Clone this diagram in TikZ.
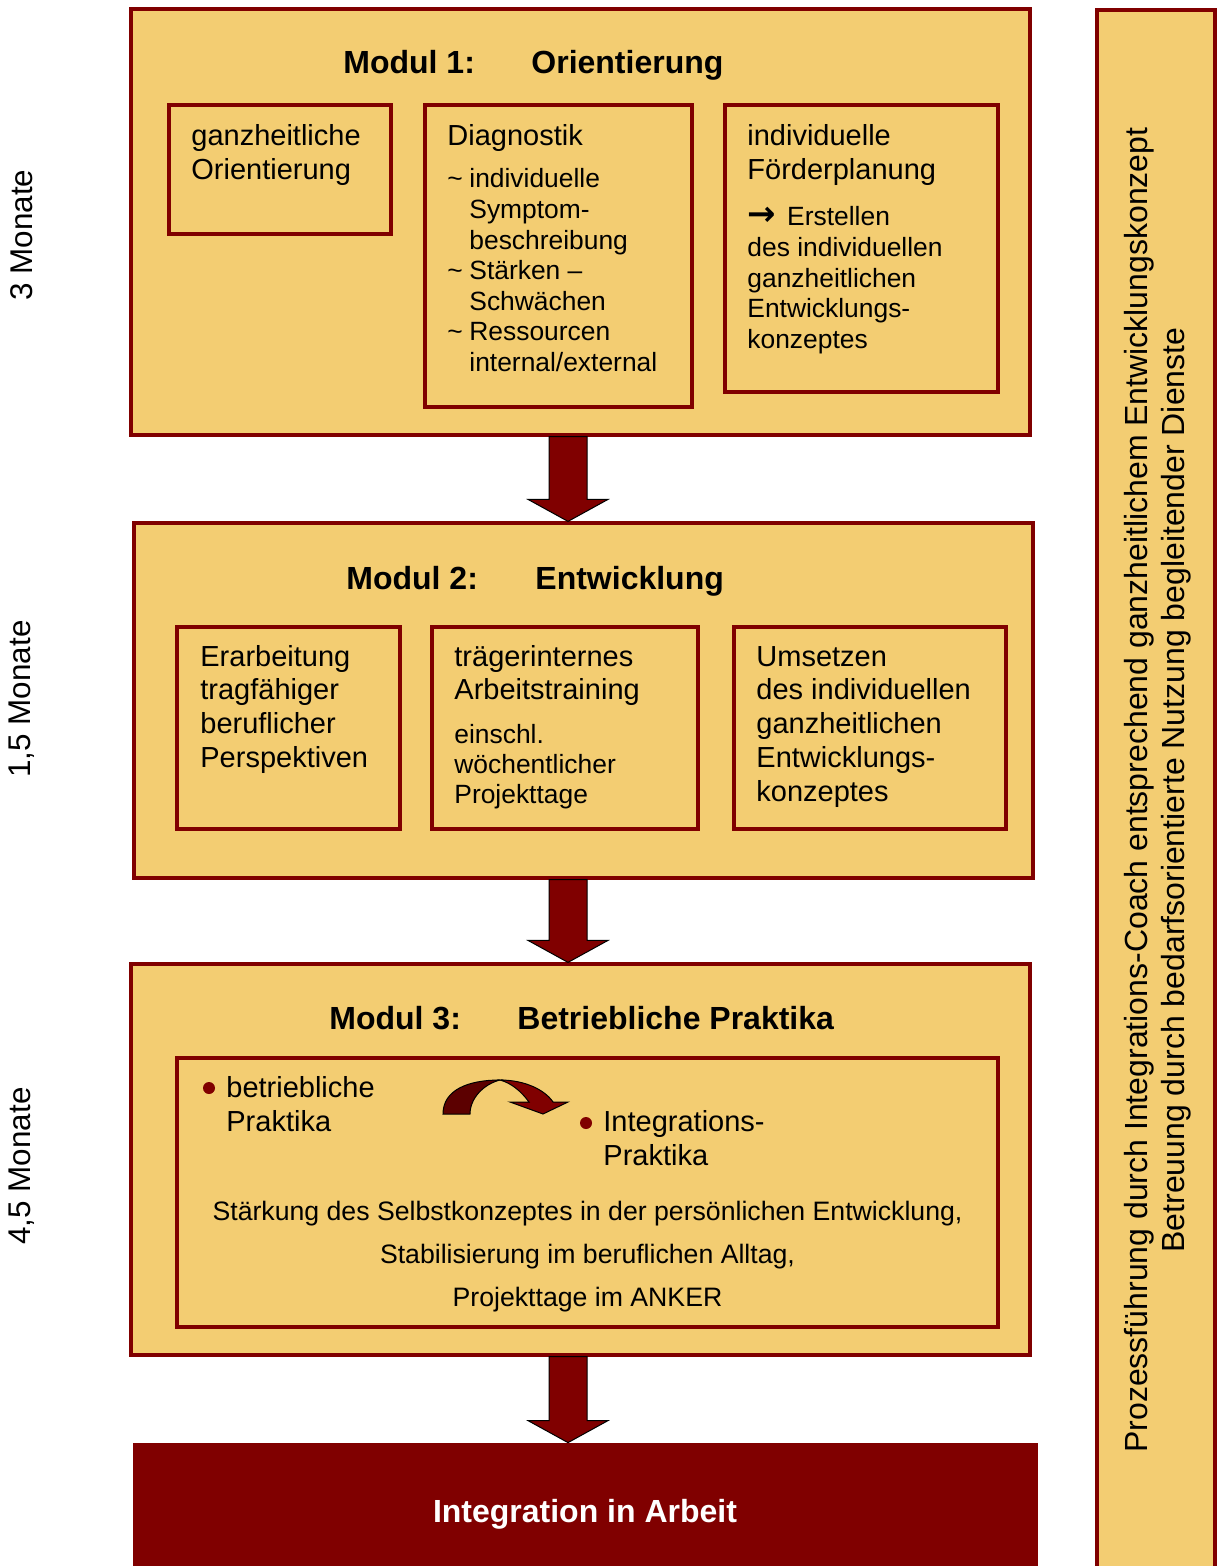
\documentclass[tikz,border=0pt]{standalone}
\usepackage{fontspec}
\setmainfont{Liberation Sans}
\newfontfamily\dvs{DejaVu Sans}
\usetikzlibrary{fit,calc}
\definecolor{dred}{RGB}{128,0,0}
\definecolor{dredshade}{RGB}{92,0,0}
\definecolor{lgold}{RGB}{243,205,114}
\newcommand{\modarrow}[2]{%
  \path[blockarrow] ($(#1)+(-19,0)$) -- ($(#2)+(-19,-22)$) -- ($(#2)+(-40,-22)$) -- (#2)
    -- ($(#2)+(40,-22)$) -- ($(#2)+(19,-22)$) -- ($(#1)+(19,0)$) -- cycle;}
\newcommand{\tl}{\makebox[11pt][l]{\textasciitilde}}
\newcommand{\ind}{\hspace*{11pt}}
\begin{document}
\begin{tikzpicture}[x=0.5pt,y=-0.5pt,
  modbox/.style={draw=dred, fill=lgold, line width=1.6pt, inner sep=0pt},
  inbox/.style={draw=dred, fill=lgold, line width=2pt, inner sep=0pt},
  big/.style={anchor=base west, inner sep=0pt, align=left, font=\fontsize{14.5}{16.75}\selectfont},
  small/.style={anchor=base west, inner sep=0pt, align=left, font=\fontsize{13.2}{15.3}\selectfont},
  head/.style={anchor=base west, inner sep=0pt, font=\fontsize{16}{19}\selectfont\bfseries},
  side/.style={rotate=90, inner sep=0pt, font=\fontsize{15.7}{18.5}\selectfont, align=center},
  blockarrow/.style={fill=dred, draw=black, line width=0.5pt},
  bullet/.style={circle, fill=dred, inner sep=0pt, minimum size=6pt},
]
\useasboundingbox (0,0) rectangle (1218,1566);

% side box
\node[draw=dred, fill=lgold, line width=1.6pt, inner sep=0pt, fit={(1097,10) (1215,1580)}] (sidebox) {};
\node[side, font=\fontsize{16}{18.5}\selectfont] (sidetext) at (1158,790) {Prozessführung durch Integrations-Coach entsprechend ganzheitlichem Entwicklungskonzept\\Betreuung durch bedarfsorientierte Nutzung begleitender Dienste};

% time labels
\node[side] (t1) at (22,235) {3 Monate};
\node[side] (t2) at (22,699) {1,5 Monate};
\node[side] (t3) at (22,1166) {4,5 Monate};

% Modul 1 (multi-line nodes are placed at the baseline of their last line)
\node[modbox, fit={(131,9) (1030,435)}] (m1) {};
\node[head] (m1a) at (343,74) {Modul 1:};
\node[head] (m1b) at (531,74) {Orientierung};
\node[inbox, fit={(169,105) (391,234)}] (m1i1) {};
\node[inbox, fit={(425,105) (692,407)}] (m1i2) {};
\node[inbox, fit={(725,105) (998,392)}] (m1i3) {};
\node[big] (m1t1) at (191,179.5) {ganzheitliche\\Orientierung};
\node[big] (m1t2) at (447,146) {Diagnostik};
\node[small] (m1t3) at (447,371.6) {\tl individuelle\\\ind Symptom-\\\ind beschreibung\\\tl Stärken –\\\ind Schwächen\\\tl Ressourcen\\\ind internal/external};
\node[big] (m1t4) at (747,179.5) {individuelle\\Förderplanung};
\node[small] (m1t5) at (747,348.4) {{\dvs\bfseries\fontsize{17}{15}\selectfont →}\hspace{2pt} Erstellen\\des individuellen\\ganzheitlichen\\Entwicklungs-\\konzeptes};

% Modul 2
\node[modbox, fit={(134,523) (1033,878)}] (m2) {};
\node[head] (m2a) at (346,589) {Modul 2:};
\node[head] (m2b) at (535,589) {Entwicklung};
\node[inbox, fit={(177,627) (400,829)}] (m2i1) {};
\node[inbox, fit={(432,627) (698,829)}] (m2i2) {};
\node[inbox, fit={(734,627) (1006,829)}] (m2i3) {};
\node[big, font=\fontsize{14.5}{16.9}\selectfont] (m2t1) at (200,767.4) {Erarbeitung\\tragfähiger\\beruflicher\\Perspektiven};
\node[big, font=\fontsize{14.5}{16.9}\selectfont] (m2t2) at (454,699.8) {trägerinternes\\Arbeitstraining};
\node[small, font=\fontsize{13.2}{15}\selectfont] (m2t3) at (454,803) {einschl.\\wöchentlicher\\Projekttage};
\node[big, font=\fontsize{14.5}{16.9}\selectfont] (m2t4) at (756,801.2) {Umsetzen\\des individuellen\\ganzheitlichen\\Entwicklungs-\\konzeptes};

% Modul 3
\node[modbox, fit={(131,964) (1030,1355)}] (m3) {};
\node[head] (m3a) at (329,1029) {Modul 3:};
\node[head] (m3b) at (517,1029) {Betriebliche Praktika};
\node[inbox, fit={(177,1058) (998,1327)}] (m3i) {};
\node[bullet] (bu1) at (209,1088) {};
\node[big, font=\fontsize{14.5}{17}\selectfont] (m3t1) at (226,1131) {betriebliche\\Praktika};
\node[bullet] (bu2) at (586,1123) {};
\node[big, font=\fontsize{14.5}{17}\selectfont] (m3t2) at (603,1165) {Integrations-\\Praktika};
\node[anchor=base, inner sep=0pt, align=center, font=\fontsize{13.33}{21.5}\selectfont] (m3t3) at (587.5,1306)
  {Stärkung des Selbstkonzeptes in der persönlichen Entwicklung,\\Stabilisierung im beruflichen Alltag,\\Projekttage im ANKER};
% curved arrow
\filldraw[fill=dredshade, draw=black, line width=0.5pt] (443,1114) .. controls (443,1090) and (468,1080) .. (500,1080)
  .. controls (484,1084) and (470,1098) .. (470,1114) -- cycle;
\filldraw[fill=dred, draw=black, line width=0.5pt] (500,1080) .. controls (525,1080) and (545,1090) .. (553,1102)
  -- (568,1102) -- (543,1114) -- (510,1102) -- (529,1102) .. controls (521,1091) and (511,1083) .. (500,1080) -- cycle;

% final box
\node[fill=dred, inner sep=0pt, fit={(133,1443) (1038,1580)}] (fin) {};
\node[anchor=base, inner sep=0pt, text=white, font=\fontsize{16}{19}\selectfont\bfseries] (fint) at (585,1522) {Integration in Arbeit};

% arrows
\coordinate (ax) at (568,0);
\coordinate (a1s) at (m1.south -| ax);
\coordinate (a1e) at (m2.north -| ax);
\coordinate (a2s) at (m2.south -| ax);
\coordinate (a2e) at (m3.north -| ax);
\coordinate (a3s) at (m3.south -| ax);
\coordinate (a3e) at (fin.north -| ax);
\modarrow{a1s}{a1e}
\modarrow{a2s}{a2e}
\modarrow{a3s}{a3e}
\end{tikzpicture}
\end{document}
